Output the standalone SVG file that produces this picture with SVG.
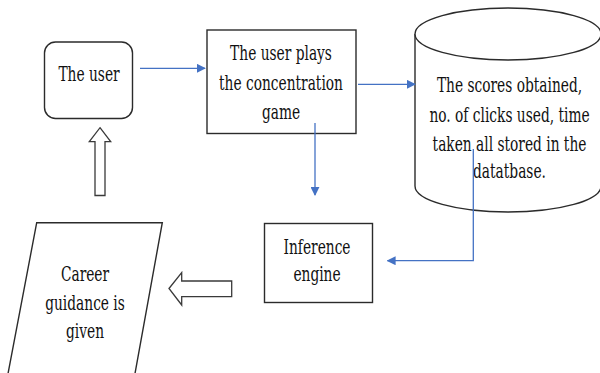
<svg xmlns="http://www.w3.org/2000/svg" width="600" height="373" viewBox="0 0 600 373">
<style>
.n{fill:#fff;stroke:#2b2b2b;stroke-width:1.4}
.c{fill:none;stroke:#4472c4;stroke-width:1.3}
.h{fill:#fff;stroke:#3a3a3a;stroke-width:1.3}
.t{font-family:'DejaVu Serif',serif;font-size:14.5px;text-anchor:middle;fill:#111}
</style>
<defs>
<marker id="ah" viewBox="0 0 10 10" refX="9" refY="5" markerWidth="9" markerHeight="9" markerUnits="userSpaceOnUse" orient="auto">
<path d="M0,0 L10,5 L0,10 z" fill="#4472c4"/>
</marker>
</defs>
<rect width="600" height="373" fill="#fff"/>
<g id="user">
<rect class="n" x="44.5" y="42" width="88" height="76.5" rx="11"/>
<text class="t" transform="translate(89,80.7) scale(0.95,1.46)">The user</text>
</g>
<g id="game">
<rect class="n" x="207" y="30" width="149" height="103.5"/>
<text class="t" transform="translate(281,59.5) scale(0.95,1.46)">The user plays</text>
<text class="t" transform="translate(281,89.5) scale(0.95,1.46)">the concentration</text>
<text class="t" transform="translate(281,119) scale(0.95,1.46)">game</text>
</g>
<g id="database">
<path class="n" d="M415,34 L415,186 A93,26 0 0 0 601,186 L601,34"/>
<ellipse class="n" cx="508" cy="34" rx="93" ry="26"/>
<text class="t" transform="translate(509.5,91.7) scale(0.95,1.46)">The scores obtained,</text>
<text class="t" transform="translate(509.5,121.5) scale(0.95,1.46)">no. of clicks used, time</text>
<text class="t" transform="translate(509.5,150.7) scale(0.95,1.46)">taken all stored in the</text>
<text class="t" transform="translate(509.5,178.3) scale(0.95,1.46)">datatbase.</text>
</g>
<g id="inference">
<rect class="n" x="264.5" y="223.5" width="108" height="79"/>
<text class="t" transform="translate(317,254) scale(0.95,1.46)">Inference</text>
<text class="t" transform="translate(317,281) scale(0.95,1.46)">engine</text>
</g>
<g id="career">
<polygon class="n" points="36.7,222.7 162.3,222.7 134,379 7,379"/>
<text class="t" transform="translate(85,281) scale(0.95,1.46)">Career</text>
<text class="t" transform="translate(85,310) scale(0.95,1.46)">guidance is</text>
<text class="t" transform="translate(85,337.7) scale(0.95,1.46)">given</text>
</g>
<g id="connectors">
<line class="c" x1="140" y1="68.3" x2="205" y2="68.3" marker-end="url(#ah)"/>
<line class="c" x1="358" y1="84.3" x2="415" y2="84.3" marker-end="url(#ah)"/>
<line class="c" x1="315" y1="123" x2="315" y2="195" marker-end="url(#ah)"/>
<polyline class="c" points="473.3,149 473.3,260.7 387.5,260.7" marker-end="url(#ah)"/>
<polygon class="h" points="100,127.7 110.7,141.7 105,141.7 105,195.5 95,195.5 95,141.7 89.3,141.7"/>
<polygon class="h" points="169,288.5 181.7,272.7 181.7,281 231.7,281 231.7,296.7 181.7,296.7 181.7,305"/>
</g>
</svg>
